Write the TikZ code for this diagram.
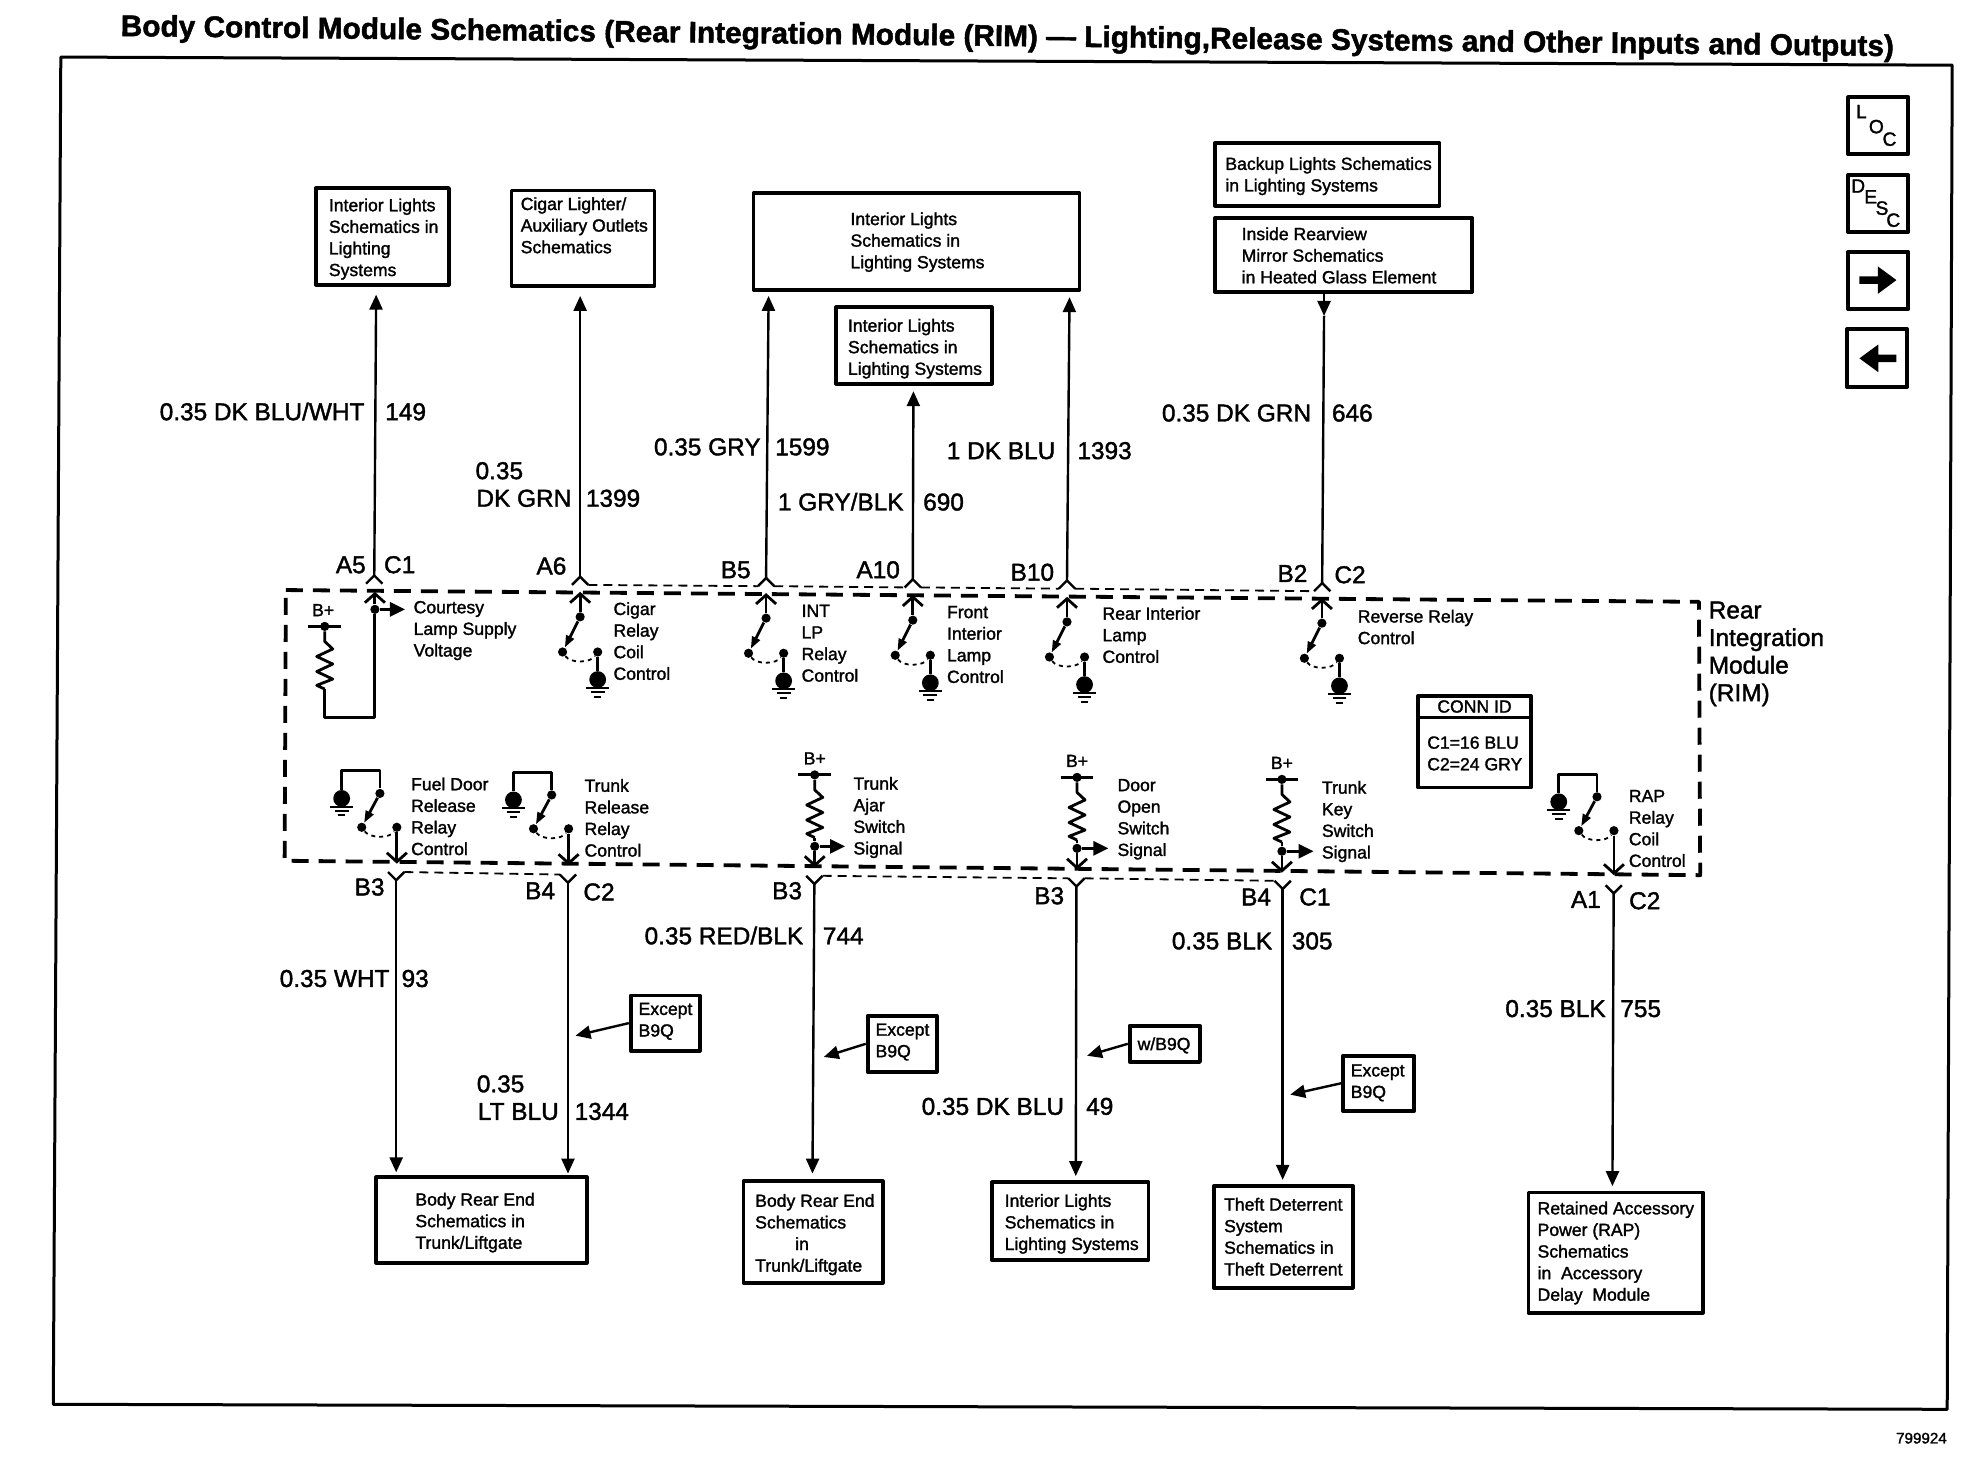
\documentclass[tikz,border=0pt]{standalone}
\usepackage{fontspec}
\setmainfont{Liberation Sans}[FakeBold=1.6]
\usetikzlibrary{arrows.meta,fit}
\newcommand{\smalltxt}{\fontsize{8.8}{10.8}\selectfont}
\newcommand{\wiretxt}{\fontsize{12.2}{13.9}\selectfont}
% box drawn by two corners, its text set at its own spot
\newcommand{\partbox}[5]{%
	\node[partframe,fit={(#2) (#3)}] (#1) {};
	\node[parttext] (#1text) at (#4) {#5};
}
\tikzset{
	parttext/.style={anchor=north west,inner sep=0pt,align=left,font=\smalltxt},
	partframe/.style={draw,line width=1.9pt,inner sep=0pt},
	wire/.style={line width=1.2pt},
	inner wire/.style={line width=1.4pt},
	pinarrow/.style={-{Straight Barb[length=4.5pt,width=10pt]}},
	swarrow/.style={-{Stealth[inset=0pt,length=6pt,width=4.2pt]}},
	thin dash/.style={line width=.9pt,dash pattern=on 4.5pt off 3pt},
	pinlabel/.style={inner sep=0pt,font=\wiretxt,yshift=-1.2pt},
	wirelabel/.style={inner sep=0pt,font=\wiretxt,yshift=-1.2pt},
	smalldot/.style={circle,fill,inner sep=0pt,minimum size=4.6pt},
	bigdot/.style={circle,fill,inner sep=0pt,minimum size=8.4pt},
	pics/earth/.style={code={
		\node[bigdot] (-dot) at (0,0) {};
		\draw[line width=1pt] (-9,6.5)--(9,6.5) (-5.5,10)--(5.5,10) (-3,13.5)--(3,13.5);
	}},
	pics/forkup/.style={code={
		\coordinate (-apex) at (0,0);
		\coordinate (-l) at (-6.5,6.5);
		\coordinate (-r) at (6.5,6.5);
		\draw[wire] (-l)--(-apex)--(-r);
	}},
	pics/forkdown/.style={code={
		\coordinate (-apex) at (0,0);
		\coordinate (-l) at (-6.5,-6.5);
		\coordinate (-r) at (6.5,-6.5);
		\draw[wire] (-l)--(-apex)--(-r);
	}},
	pics/coil/.style={code={
		\node[smalldot] (-top) at (0,0) {};
		\coordinate (-end) at (0,50);
		\draw[inner wire] (-13,0)--(13,0);
		\draw[inner wire] (-top)--(0,12)--(6.4,18)--(-6.4,24)--(6.4,30)--(-6.4,36)--(6.4,42)--(-6.4,47)--(-end);
	}},
	pics/relayup/.style={code={
		\node[smalldot] (-top) at (0,0) {};
		\node[smalldot] (-low) at (-14,28) {};
		\node[smalldot] (-con) at (14,28) {};
		\coordinate (-pin) at (0,-20);
		\draw[inner wire,pinarrow] (-top)--(-pin);
		\draw[inner wire,swarrow] (-top)--(-low);
		\draw[line width=.9pt,dash pattern=on 2pt off 2pt] (-low) .. controls (-8,37) and (8,37) .. (-con);
		\pic (-gnd) at (14,50) {earth};
		\draw[inner wire] (-con)--(-gnd-dot);
	}},
	pics/relaylow/.style={code={
		\node[smalldot] (-top) at (0,0) {};
		\node[smalldot] (-low) at (-14.5,27) {};
		\node[smalldot] (-con) at (13.5,27) {};
		\coordinate (-pin) at (13.5,#1);
		\draw[inner wire,pinarrow] (-con)--(-pin);
		\draw[inner wire,swarrow] (-top)--(-low);
		\draw[line width=.9pt,dash pattern=on 2pt off 2pt] (-low) .. controls (-8,36) and (8,36) .. (-con);
		\pic (-gnd) at (-30.5,4) {earth};
		\draw[inner wire] (-top)--(0,-18)--(-30.5,-18)--(-gnd-dot);
	}},
}
\begin{document}
\begin{tikzpicture}[>={Stealth[inset=0pt,length=7.5pt,width=6.5pt]},line join=round,x=.6269pt,y=-.6269pt]
	\useasboundingbox (0,0) rectangle (1568,1174);
	% page frame and heading
	\coordinate (frameA) at (48.5,45.5);
	\coordinate (frameB) at (1557,52);
	\coordinate (frameC) at (1553,1124);
	\coordinate (frameD) at (42.5,1120);
	\draw[line width=1.5pt] (frameA)--(frameB)--(frameC)--(frameD)--cycle;
	\node[anchor=mid west,inner sep=0pt,rotate=-.65,font=\fontsize{14.9}{16}\selectfont\bfseries] (heading) at (96,24.5) {Body Control Module Schematics (Rear Integration Module (RIM) — Lighting,Release Systems and Other Inputs and Outputs)};
	\node[anchor=mid east,inner sep=0pt,font=\fontsize{7.6}{9}\selectfont] (drawingno) at (1553,1147) {799924};
	% icons on the right
	\partbox{iconloc}{1474,77.6}{1522,123}{1474,77.6}{}
	\partbox{icondesc}{1474,139.6}{1522,185}{1474,139.6}{}
	\partbox{iconnext}{1474,200.8}{1522,246.6}{1474,200.8}{}
	\partbox{iconback}{1473,262.6}{1521,308.5}{1473,262.6}{}
	\foreach \nm/\xx/\yy/\tt in {la/1484.5/89/L,lb/1496.5/101/O,lc/1507/111/C,da/1482/148.4/D,db/1492/157/E,dc/1501/166/S,dd/1510/175.6/C}{
		\node[inner sep=0pt,font=\fontsize{9.6}{10}\selectfont] (icon\nm) at (\xx,\yy) {\tt};
	}
	\fill (1483,220.4)--(1497.6,220.4)--(1497.6,212.4)--(1512.5,223.4)--(1497.6,234.4)--(1497.6,226.4)--(1483,226.4)--cycle;
	\fill (1512.5,282.8)--(1498,282.8)--(1498,274.8)--(1483,285.8)--(1498,296.8)--(1498,288.8)--(1512.5,288.8)--cycle;
	% module outline
	\coordinate (rimA) at (228,470.6);
	\coordinate (rimB) at (1355,480);
	\coordinate (rimC) at (1356,698);
	\coordinate (rimD) at (227,686.5);
	\draw[line width=1.9pt,dash pattern=on 8.5pt off 5pt] (rimA)--(rimB)--(rimC)--(rimD)--cycle;
	\node[anchor=north west,inner sep=0pt,align=left,font=\fontsize{12.2}{13.8}\selectfont] (rimname) at (1362.5,479.5) {Rear\\Integration\\Module\\(RIM)};
	% boxes above the module
	\partbox{lightsA}{252,150}{358,227}{262,158}{Interior Lights\\Schematics in\\Lighting\\Systems}
	\partbox{cigar}{408,152}{522,228}{415,157}{Cigar Lighter/\\Auxiliary Outlets\\Schematics}
	\partbox{lightsB}{601,154}{861,231}{678,169}{Interior Lights\\Schematics in\\Lighting Systems}
	\partbox{lightsC}{667,245}{791,306}{676,254}{Interior Lights\\Schematics in\\Lighting Systems}
	\partbox{backup}{969,114}{1148,164}{977,125}{Backup Lights Schematics\\in Lighting Systems}
	\partbox{mirror}{969,174}{1174,233}{990,181}{Inside Rearview\\Mirror Schematics\\in Heated Glass Element}
	% boxes below the module
	\partbox{bodyA}{300,939}{468,1007}{331,951}{Body Rear End\\Schematics in\\Trunk/Liftgate}
	\partbox{bodyB}{593,942}{704,1023}{602,952}{Body Rear End\\Schematics\\\hspace*{20pt}in\\Trunk/Liftgate}
	\partbox{lightsD}{791,943}{916,1005}{801,952}{Interior Lights\\Schematics in\\Lighting Systems}
	\partbox{theft}{968,946}{1079,1027}{976,955}{Theft Deterrent\\System\\Schematics in\\Theft Deterrent}
	\partbox{rap}{1219,951}{1358,1047}{1226,958}{Retained Accessory\\Power (RAP)\\Schematics\\in\ \ Accessory\\Delay\ \ Module}
	% connector id
	\partbox{connid}{1131,555}{1221,628}{1138,587}{C1=16 BLU\\C2=24 GRY}
	\coordinate (connL) at (1131,572.5);
	\coordinate (connR) at (1221,572.5);
	\draw[line width=1.5pt] (connL)--(connR);
	\node[inner sep=0pt,font=\smalltxt] (connhead) at (1176,563.5) {CONN ID};
	% wires going up
	\foreach \nm/\xa/\ya/\xb/\yb in {Afive/298.5/459/300/235,Asix/462.7/460/462.7/236,Bfive/611/461/613/236,Aten/728/462/728.5/312,Bten/851/463/853/237}{
		\pic (fork\nm) at (\xa,\ya) {forkup};
		\coordinate (tip\nm) at (\xb,\yb);
		\draw[wire,->] (fork\nm-apex)--(tip\nm);
	}
	\pic (forkBtwo) at (1054.5,465) {forkup};
	\coordinate (tipBtwo) at (1056,252);
	\coordinate (startBtwo) at (1056,234);
	\draw[wire,->] (startBtwo)--(tipBtwo);
	\draw[wire] (tipBtwo)--(forkBtwo-apex);
	% wires going down
	\foreach \nm/\xa/\ya/\xb/\yb in {Bthree/316/702/316/935,Bfour/453/704/453/936,Cthree/649.5/705/648/936,Dthree/858.5/707/858/938,Cfour/1023/709/1023/941,Aone/1287/712.5/1286/946}{
		\pic (fork\nm) at (\xa,\ya) {forkdown};
		\coordinate (tip\nm) at (\xb,\yb);
		\draw[wire,->] (fork\nm-apex)--(tip\nm);
	}
	% thin dashes between pins of a connector
	\foreach \aa/\bb in {Asix/Bfive,Bfive/Aten,Aten/Bten,Bten/Btwo,Bthree/Bfour,Cthree/Dthree,Dthree/Cfour}{
		\draw[thin dash] (fork\aa-r)--(fork\bb-l);
	}
	% pin and wire labels
	\foreach \nm/\xx/\yy/\tt in {pa/292/451/A5,pc/452/452/A6,pd/599/455/B5,pe/718/455/A10,pf/841/457/B10,pg/1043/458/B2,qa/307/708/B3,qb/443/711/B4,qd/640/711/B3,qe/849/715/B3,qf/1014/716/B4,qh/1277/718/A1}{
		\node[pinlabel,anchor=mid east] (\nm) at (\xx,\yy) {\tt};
	}
	\foreach \nm/\xx/\yy/\tt in {pb/306/451/C1,ph/1064/459/C2,qc/465/712/C2,qg/1036/716/C1,qi/1299/719/C2}{
		\node[pinlabel,anchor=mid west] (\nm) at (\xx,\yy) {\tt};
	}
	\foreach \nm/\xx/\yy/\tt in {la/291/329/{0.35 DK BLU/WHT},lb/456/398/DK GRN,lc/607/357/0.35 GRY,ld/721/401/{1 GRY/BLK},le/842/360/1 DK BLU,lf/1046/330/0.35 DK GRN,lg/311/781/0.35 WHT,lh/446/887/LT BLU,li/641/747/{0.35 RED/BLK},lj/849/883/0.35 DK BLU,lk/1015/751/0.35 BLK,ll/1281/805/0.35 BLK}{
		\node[wirelabel,anchor=mid east] (gauge\nm) at (\xx,\yy) {\tt};
	}
	\node[wirelabel,anchor=mid west] (gaugeup) at (379,376) {0.35};
	\node[wirelabel,anchor=mid west] (gaugedown) at (380,865) {0.35};
	\foreach \nm/\xx/\yy/\tt in {na/307/329/149,nb/467/398/1399,nc/618/357/1599,nd/736/401/690,ne/859/360/1393,nf/1062/330/646,ng/320/781/93,nh/458/887/1344,ni/656/747/744,nj/866/883/49,nk/1030/751/305,nl/1292/805/755}{
		\node[wirelabel,anchor=mid west] (circuit\nm) at (\xx,\yy) {\tt};
	}
	% option tags
	\partbox{tagA}{503,794}{558,838}{509,799.5}{Except\\B9Q}
	\partbox{tagB}{692,810}{747,855}{698,816}{Except\\B9Q}
	\partbox{tagC}{901,818}{957,847}{907,827}{w/B9Q}
	\partbox{tagD}{1071,842}{1128,886}{1077,848.5}{Except\\B9Q}
	\foreach \nm/\xx/\yy in {tagA/459/826,tagB/657/843,tagC/867/842,tagD/1029/873}{
		\coordinate (\nm tip) at (\xx,\yy);
		\draw[wire,->] (\nm.west)--(\nm tip);
	}
	% courtesy lamp supply
	\pic (coilA) at (259,499.6) {coil};
	\node[inner sep=0pt,font=\smalltxt] (bplusA) at (257.7,486.6) {B+};
	\node[smalldot] (joinA) at (299,486) {};
	\coordinate (cornerA) at (259,572);
	\coordinate (cornerB) at (299,572);
	\coordinate (pinA) at (299,472);
	\coordinate (signalA) at (323,486);
	\draw[inner wire] (coilA-end)--(cornerA)--(cornerB)--(joinA);
	\draw[inner wire,pinarrow] (joinA)--(pinA);
	\draw[inner wire,-{Stealth[inset=0pt,length=7.5pt,width=7pt]}] (joinA)--(signalA);
	\node[parttext] (courtesy) at (329.6,479) {Courtesy\\Lamp Supply\\Voltage};
	% relays, upper row
	\pic (swcigar) at (462.7,492) {relayup};
	\pic (swint) at (611,493) {relayup};
	\pic (swfront) at (728,494.6) {relayup};
	\pic (swrear) at (851,496) {relayup};
	\pic (swrev) at (1054.3,497) {relayup};
	\node[parttext] (cigartext) at (489,480) {Cigar\\Relay\\Coil\\Control};
	\node[parttext] (inttext) at (639,482) {INT\\LP\\Relay\\Control};
	\node[parttext] (fronttext) at (755,483) {Front\\Interior\\Lamp\\Control};
	\node[parttext] (reartext) at (879,483.7) {Rear Interior\\Lamp\\Control};
	\node[parttext] (revtext) at (1082.6,486) {Reverse Relay\\Control};
	% relays, lower row
	\pic (swfuel) at (303,632.8) {relaylow={56}};
	\pic (swtrunk) at (440,634) {relaylow={56}};
	\pic (swrap) at (1273.7,635.5) {relaylow={62.5}};
	\node[parttext] (fueltext) at (327.6,619.8) {Fuel Door\\Release\\Relay\\Control};
	\node[parttext] (trunktext) at (465.9,621) {Trunk\\Release\\Relay\\Control};
	\node[parttext] (raptext) at (1298.8,629.7) {RAP\\Relay\\Coil\\Control};
	% switch inputs with pull up
	\foreach \nm/\xx/\yb/\yj/\yt/\xs in {ajar/649.8/618/675/691.6/674,door/859/620/676.6/693.6/884,key/1022.4/621.6/678.9/696/1047.6}{
		\pic (coil\nm) at (\xx,\yb) {coil};
		\node[inner sep=0pt,font=\smalltxt,above=5pt] (bplus\nm) at (coil\nm-top) {B+};
		\node[smalldot] (join\nm) at (\xx,\yj) {};
		\coordinate (pin\nm) at (\xx,\yt);
		\coordinate (signal\nm) at (\xs,\yj);
		\draw[inner wire] (coil\nm-end)--(join\nm);
		\draw[inner wire,pinarrow] (join\nm)--(pin\nm);
		\draw[inner wire,-{Stealth[inset=0pt,length=7.5pt,width=7pt]}] (join\nm)--(signal\nm);
	}
	\node[parttext] (ajartext) at (680.4,619.3) {Trunk\\Ajar\\Switch\\Signal};
	\node[parttext] (doortext) at (891,621) {Door\\Open\\Switch\\Signal};
	\node[parttext] (keytext) at (1054,622.5) {Trunk\\Key\\Switch\\Signal};
\end{tikzpicture}
\end{document}
